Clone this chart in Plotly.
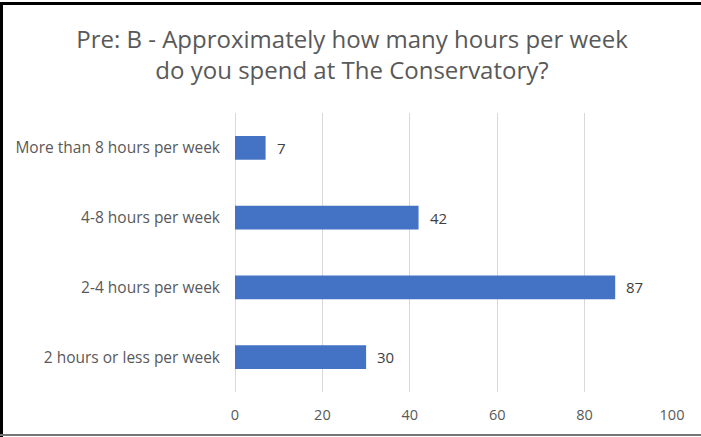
import plotly.graph_objects as go

# Survey responses: hours per week spent at The Conservatory
categories = [
    "2 hours or less per week",
    "2-4 hours per week",
    "4-8 hours per week",
    "More than 8 hours per week",
]
counts = [30, 87, 42, 7]
x_ticks = [0, 20, 40, 60, 80, 100]

W, H = 701, 437
ML, MR, MT, MB = 235, 29, 113, 45
TEXT = "#595959"
FONT = "'Open Sans', sans-serif"

fig = go.Figure(
    go.Bar(
        y=categories,
        x=counts,
        orientation="h",
        marker=dict(color="#4472c4", line=dict(width=0)),
        hoverinfo="skip",
    )
)

# value labels just beyond each bar end
for cat, val in zip(categories, counts):
    fig.add_annotation(
        x=val, y=cat, text=str(val), showarrow=False,
        xanchor="left", xshift=9,
        font=dict(family=FONT, size=15, color="#404040"),
    )

pw = W - ML - MR
ph = H - MT - MB


def px(xp):
    return (xp - ML) / pw


def py(yp):
    return (H - MB - yp) / ph


# frame of the chart area: heavy left/top edges, thin grey bottom edge
fig.add_shape(type="line", xref="paper", yref="paper",
              x0=px(1.5), x1=px(1.5), y0=py(2), y1=py(437),
              line=dict(color="black", width=3))
fig.add_shape(type="line", xref="paper", yref="paper",
              x0=px(0), x1=px(701), y0=py(3.5), y1=py(3.5),
              line=dict(color="black", width=3))
fig.add_shape(type="line", xref="paper", yref="paper",
              x0=px(0), x1=px(701), y0=py(435), y1=py(435),
              line=dict(color="#767676", width=2))

fig.update_layout(
    width=W, height=H,
    margin=dict(l=ML, r=MR, t=MT, b=MB),
    paper_bgcolor="white", plot_bgcolor="white",
    bargap=0.66,
    showlegend=False,
    title=dict(
        text="Pre: B - Approximately how many hours per week<br>do you spend at The Conservatory?",
        x=352 / W, xanchor="center", xref="container",
        y=1 - 48 / H, yanchor="middle", yref="container",
        font=dict(family=FONT, size=24, color=TEXT),
    ),
    xaxis=dict(
        range=[0, 100], tickvals=x_ticks,
        showgrid=True, gridcolor="#d9d9d9", gridwidth=1,
        zeroline=True, zerolinecolor="#d9d9d9", zerolinewidth=1,
        showline=False, ticks="",
        ticklabelstandoff=12,
        tickfont=dict(family=FONT, size=14.5, color=TEXT),
        fixedrange=True,
    ),
    yaxis=dict(
        categoryorder="array", categoryarray=categories,
        showgrid=False, zeroline=False, showline=False, ticks="",
        ticklabelstandoff=14,
        tickfont=dict(family=FONT, size=15.5, color=TEXT),
        fixedrange=True,
    ),
)

fig.write_html("out.html", config=dict(displayModeBar=False))
